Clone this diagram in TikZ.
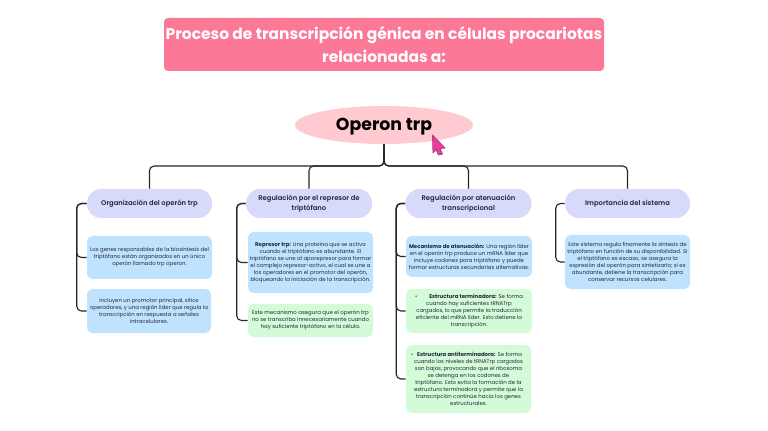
\documentclass[tikz,border=0pt]{standalone}
\usepackage{fontspec}
\setmainfont{Poppins}
\newfontfamily\headfont{Poppins SemiBold}
\usetikzlibrary{shapes.geometric}
\definecolor{titlepink}{HTML}{FB7896}
\definecolor{ovalpink}{HTML}{FFCBD1}
\definecolor{headlilac}{HTML}{D8DAFC}
\definecolor{bodyblue}{HTML}{BFE3FF}
\definecolor{bodygreen}{HTML}{D3FBD8}
\definecolor{inktext}{HTML}{232838}
\def\pxu{0.75pt}
\tikzset{
  x=0.75pt,y=-0.75pt,
  conn/.style={draw=black!85,line width=0.85pt,rounded corners=3.5pt},
  titlebox/.style={fill=titlepink,rounded corners=3pt,text=white,align=center,font=\fontsize{11.6}{17.8}\selectfont\bfseries,inner sep=0pt},
  oval/.style={ellipse,fill=ovalpink,inner sep=0pt,text=black,text height=12pt,text depth=3pt,font=\fontsize{13}{16}\selectfont\bfseries},
  headbox/.style={fill=headlilac,rounded corners=10.5pt,align=center,text=inktext,font=\fontsize{5.1}{7.2}\selectfont\headfont,inner sep=0pt},
  bluebox/.style={fill=bodyblue,rounded corners=4pt,align=center,text=inktext,font=\fontsize{4.05}{5.25}\selectfont,inner sep=0pt},
  greenbox/.style={bluebox,fill=bodygreen},
  sz/.style n args={2}{minimum width=#1*\pxu,minimum height=#2*\pxu}
}
\begin{document}
\begin{tikzpicture}
\useasboundingbox (0,0) rectangle (768,431);
\node[titlebox,sz={440}{53}] (title) at (384,44.5) {Proceso de transcripción génica en células procariotas\\relacionadas a:};
\node[oval,sz={178}{38}] (op) at (384,125) {Operon trp};
\fill[fill=magenta!70!pink,draw=magenta!60!black,line width=0.6pt,line join=round]
  (432.5,135) -- (445,148) -- (440,148.5) -- (442.5,154) -- (438.5,155) -- (436,149.5) -- (433,153) -- cycle;
\coordinate (bus) at (384,166);
% headings
\node[headbox,sz={125}{29}] (h1) at (149.5,203.5) {Organización del operón trp};
\node[headbox,sz={126}{29}] (h2) at (309,203.5) {Regulación por el represor de\\triptófano};
\node[headbox,sz={126}{29}] (h3) at (468.5,203.5) {Regulación por atenuación\\transcripcional};
\node[headbox,sz={125}{29}] (h4) at (627.5,203.5) {Importancia del sistema};
% bodies
\node[bluebox,sz={125}{43}] (a1) at (149.5,257.5) {Los genes responsables de la biosíntesis del\\triptófano están organizados en un único\\operón llamado trp operon.};
\node[bluebox,sz={124}{44}] (a2) at (149,311) {Incluyen un promotor principal, sitios\\operadores, y una región líder que regula la\\transcripción en respuesta a señales\\intracelulares.};
\node[bluebox,sz={125}{61}] (b1) at (310.5,262.5) {\textbf{Represor trp:} Una proteína que se activa\\cuando el triptófano es abundante. El\\triptófano se une al aporepresor para formar\\el complejo represor-activo, el cual se une a\\los operadores en el promotor del operón,\\bloqueando la iniciación de la transcripción.};
\node[greenbox,sz={125}{33}] (b2) at (310.5,320.5) {Este mecanismo asegura que el operón trp\\no se transcriba innecesariamente cuando\\hay suficiente triptófano en la célula.};
\node[bluebox,sz={126}{41}] (c1) at (469,256.5) {\textbf{Mecanismo de atenuación:} Una región líder\\en el operón trp produce un mRNA líder que\\incluye codones para triptófano y puede\\formar estructuras secundarias alternativas.};
\node[greenbox,sz={126}{44}] (c2) at (469,311) {\textbullet\hspace{9pt}\textbf{Estructura terminadora:} Se forma\\cuando hay suficientes tRNATrp\\cargados, lo que permite la traducción\\eficiente del mRNA líder. Esto detiene la\\transcripción.};
\node[greenbox,sz={125}{68}] (c3) at (468.5,379) {\textbullet\hspace{3pt}\textbf{Estructura antiterminadora:} Se forma\hspace*{3pt}\\cuando los niveles de tRNATrp cargados\\son bajos, provocando que el ribosoma\\se detenga en los codones de\\triptófano. Esto evita la formación de la\\estructura terminadora y permite que la\\transcripción continúe hacia los genes\\estructurales.};
\node[bluebox,sz={125}{54}] (d1) at (627.5,262) {Este sistema regula finamente la síntesis de\\triptófano en función de su disponibilidad. Si\\el triptófano es escaso, se asegura la\\expresión del operón para sintetizarlo; si es\\abundante, detiene la transcripción para\\conservar recursos celulares.};
% connectors
\draw[conn] (op.south) -- (bus) -| (h1.north);
\draw[conn] (op.south) -- (bus) -| (h2.north);
\draw[conn] (op.south) -- (bus) -| (h3.north);
\draw[conn] (op.south) -- (bus) -| (h4.north);
\draw[conn] (h1.west) -- ++(-10,0) |- (a1.west);
\draw[conn] (h1.west) -- ++(-10,0) |- (a2.west);
\draw[conn] (h2.west) -- ++(-9,0) |- (b1.west);
\draw[conn] (h2.west) -- ++(-9,0) |- (b2.west);
\draw[conn] (h3.west) -- ++(-9,0) |- (c1.west);
\draw[conn] (h3.west) -- ++(-9,0) |- (c2.west);
\draw[conn] (h3.west) -- ++(-9,0) |- (c3.west);
\draw[conn] (h4.west) -- ++(-9,0) |- (d1.west);
\end{tikzpicture}
\end{document}
